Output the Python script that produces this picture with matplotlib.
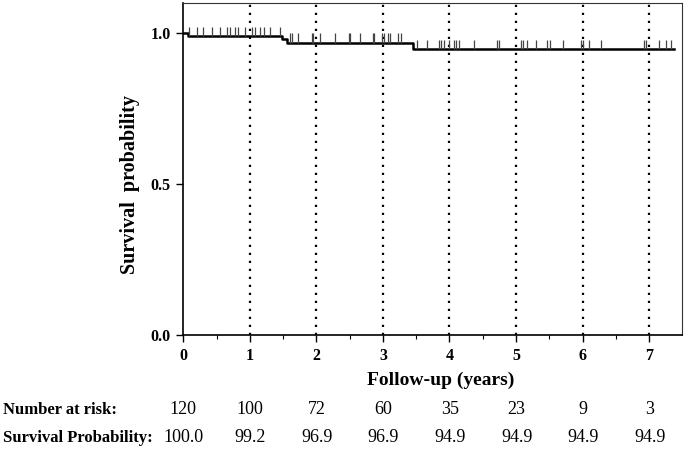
import matplotlib
matplotlib.use("Agg")
import matplotlib.pyplot as plt
import numpy as np

plt.rcParams['font.family'] = ['Liberation Serif', 'DejaVu Serif']

# Kaplan-Meier step curve (event times and survival levels)
step_times = [0.0, 0.07, 1.48, 1.56, 3.45]
step_surv = [1.0, 0.992, 0.980, 0.969, 0.949]
end_time = 7.37

# censoring marks (years)
censor_times = [0.09, 0.20, 0.30, 0.43, 0.55, 0.66, 0.70, 0.77, 0.82, 0.92, 1.03, 1.08,
                1.15, 1.22, 1.30, 1.45,
                1.60, 1.63, 1.72, 1.93, 1.95, 2.05, 2.28, 2.49, 2.51, 2.65, 2.85,
                2.87, 2.99, 3.02, 3.07, 3.11, 3.22, 3.27,
                3.52, 3.67, 3.85, 3.88, 3.92, 4.00, 4.07, 4.10, 4.15, 4.37, 4.72,
                4.75, 5.08, 5.11, 5.17, 5.30, 5.47, 5.51, 5.70, 5.98, 6.01, 6.10,
                6.28, 6.93, 6.96, 7.15, 7.25, 7.33]

years = [0, 1, 2, 3, 4, 5, 6, 7]
at_risk = ["120", "100", "72", "60", "35", "23", "9", "3"]
surv_prob = ["100.0", "99.2", "96.9", "96.9", "94.9", "94.9", "94.9", "94.9"]

fig = plt.figure(figsize=(6.86, 4.49), dpi=100)
ax = fig.add_axes([183.3/686, 1 - 335/449, (682.3-183.3)/686, (335-3)/449])

xs = list(step_times) + [end_time]
ys = list(step_surv) + [step_surv[-1]]
ax.step(xs, ys, where='post', color='black', lw=1.8, zorder=3)

def surv_at(t):
    s = step_surv[0]
    for tt, ss in zip(step_times, step_surv):
        if t >= tt:
            s = ss
    return s

cs = [surv_at(t) for t in censor_times]
ax.vlines(censor_times, cs, np.array(cs) + 0.03, color='#444444', lw=0.9, zorder=3)

for yr in years[1:]:
    ax.axvline(yr, color='black', lw=1.6, linestyle=(0, (1, 2.6)), zorder=2)

ax.set_xlim(0, 7.5)
ax.set_ylim(0, 1.1)
ax.set_xticks(years)
ax.set_xticks(np.arange(0.5, 7.5, 1.0), minor=True)
ax.set_yticks([0.0, 0.5, 1.0])
ax.set_yticklabels(["0.0", "0.5", "1.0"])
ax.tick_params(axis='both', which='major', labelsize=11.5, length=5, width=1, direction='out', pad=4)
ax.tick_params(axis='x', which='minor', length=3, width=0.8)
for lbl in ax.get_xticklabels() + ax.get_yticklabels():
    lbl.set_fontweight('bold')
for sp in ax.spines.values():
    sp.set_linewidth(0.8)
    sp.set_color('#333333')
ax.spines['left'].set_color('black')
ax.spines['bottom'].set_color('black')
ax.spines['left'].set_linewidth(1.2)
ax.spines['bottom'].set_linewidth(1.2)

ax.set_xlabel("Follow-up (years)", fontsize=14, fontweight='bold')
ax.xaxis.set_label_coords((441 - 183.3) / (682.3 - 183.3), -(380 - 335) / 332, transform=ax.transAxes)
ax.xaxis.label.set_va('center')
fig.text(130/686, 1 - 184/449, "Survival  probability", rotation=90, fontsize=14.5,
         fontweight='bold', ha='center', va='center')

fig.text(3/686, 1 - 410/449, "Number at risk:", fontsize=12, fontweight='bold', ha='left', va='center')
fig.text(3/686, 1 - 438/449, "Survival Probability:", fontsize=12, fontweight='bold', ha='left', va='center')
for yr, n, p in zip(years, at_risk, surv_prob):
    xf = (183.3 + yr * 66.67) / 686
    fig.text(xf, 1 - 410/449, n, fontsize=13, ha='center', va='center')
    fig.text(xf, 1 - 438/449, p, fontsize=13, ha='center', va='center')

fig.savefig("out.png", dpi=100)
